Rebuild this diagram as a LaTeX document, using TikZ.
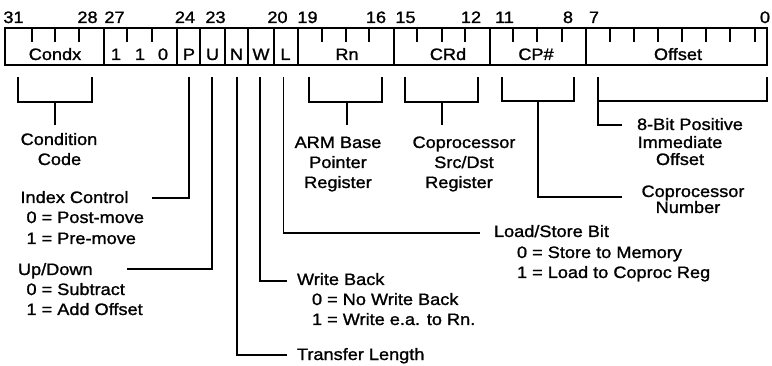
\documentclass[tikz,border=0pt]{standalone}
\usepackage{fontspec}
\setmainfont{Liberation Sans}[FakeStretch=1.1,FakeBold=1.2]
\begin{document}
\begin{tikzpicture}[x=1pt,y=-1pt,
  every node/.style={inner sep=0pt, outer sep=0pt, font=\fontsize{16.5}{19}\selectfont},
  lbl/.style={anchor=base},
  lbw/.style={anchor=base west},
  wire/.style={line width=1.8pt},
  divider/.style={line width=1.8pt},
  tick/.style={line width=1.5pt},
  frame/.style={line width=2.2pt}]
\useasboundingbox[fill=white] (0,0) rectangle (772,366);

% ---- register box ----
\draw[frame] (5,28) rectangle (767,65);
\foreach \x in {104,177,200,225,248,274,298,394,490,586}
  \draw[divider] (\x,28) -- (\x,65);
\foreach \x in {32,55,79,127,152,322,346,369,417,442,465,513,537,562,610,634,658,682,706,730,755}
  \draw[tick] (\x,28) -- (\x,42);

% ---- bit numbers ----
\foreach \x/\t in {13.5/31,87.5/28,114.5/27,185/24,215.5/23,277.5/20,307.5/19,376/16,405.5/15,471/12,504.5/11,568/8,594/7,765/0}
  \node[lbl] at (\x,23) {\t};

% ---- field labels ----
\node[lbl] (condx) at (55,60) {Condx};
\node[lbl] (b27) at (116,60) {1};
\node[lbl] (b26) at (140,60) {1};
\node[lbl] (b25) at (163,60) {0};
\node[lbl] (fP) at (189,60) {P};
\node[lbl] (fU) at (212.5,60) {U};
\node[lbl] (fN) at (236.5,60) {N};
\node[lbl] (fW) at (261,60) {W};
\node[lbl] (fL) at (285.5,60) {L};
\node[lbl] (fRn) at (347,60) {Rn};
\node[lbl] (fCRd) at (448,60) {CRd};
\node[lbl] (fCP) at (536,60) {CP\#};
\node[lbl] (fOff) at (678,60) {Offset};

% ---- descriptions ----
\node[lbl] (cond1) at (59,145) {Condition};
\node[lbl] (cond2) at (59.5,165) {Code};
\node[lbw] (idx) at (20.5,203) {Index Control};
\node[lbw] (idx0) at (26.5,223) {0 = Post-move};
\node[lbw] (idx1) at (26.5,244) {1 = Pre-move};
\node[lbw] (ud) at (18,275) {Up/Down};
\node[lbw] (ud0) at (26.5,295) {0 = Subtract};
\node[lbw] (ud1) at (26.5,315) {1 = Add Offset};
\node[lbl] (arm1) at (338,148) {ARM Base};
\node[lbl] (arm2) at (338,168) {Pointer};
\node[lbl] (arm3) at (338,188) {Register};
\node[lbl] (cp1) at (464,148) {Coprocessor};
\node[lbl] (cp2) at (464,168) {Src/Dst};
\node[lbl] (cp3) at (459,188) {Register};
\node[lbl] (ob1) at (690,130) {8-Bit Positive};
\node[lbl] (ob2) at (680,148) {Immediate};
\node[lbl] (ob3) at (680,165) {Offset};
\node[lbl] (cn1) at (693,197) {Coprocessor};
\node[lbl] (cn2) at (688,213) {Number};
\node[lbw] (ls) at (494,237) {Load/Store Bit};
\node[lbw] (ls0) at (517,258) {0 = Store to Memory};
\node[lbw] (ls1) at (517,278) {1 = Load to Coproc Reg};
\node[lbw] (wb) at (297,285) {Write Back};
\node[lbw] (wb0) at (312,305) {0 = No Write Back};
\node[lbw] (wb1) at (312,325) {1 = Write e.a. to Rn.};
\node[lbw] (tl) at (297,360) {Transfer Length};

% ---- connector end points ----
\coordinate (cA) at (18,77);   \coordinate (cB) at (92,77);
\coordinate (cS) at (55,102);  \coordinate (cE) at (55,125);
\coordinate (pT) at (189,77);  \coordinate (pE) at (152,198);
\coordinate (uT) at (212,77);  \coordinate (uE) at (127,269);
\coordinate (nT) at (237,77);  \coordinate (nE) at (287,355);
\coordinate (wT) at (260,77);  \coordinate (wE) at (287,281);
\coordinate (lT) at (283.5,77);\coordinate (lE) at (480,233);
\coordinate (rA) at (309,77);  \coordinate (rB) at (382,77);
\coordinate (rS) at (347,102); \coordinate (rE) at (347,125);
\coordinate (dA) at (405,77);  \coordinate (dB) at (478,77);
\coordinate (dS) at (442,102); \coordinate (dE) at (442,125);
\coordinate (qA) at (502,77);  \coordinate (qB) at (574,77);
\coordinate (qS) at (538,101); \coordinate (qE) at (622,197);
\coordinate (oA) at (598,77);  \coordinate (oB) at (767,77);
\coordinate (oE) at (622,125);

% ---- connectors ----
\draw[wire] (cA) |- (cS -| cB) -- (cB);
\draw[wire] (cS) -- (cE);
\draw[wire] (pT) |- (pE);
\draw[wire] (uT) |- (uE);
\draw[wire] (nT) |- (nE);
\draw[wire] (wT) |- (wE);
\draw[wire] (lT) |- (lE);
\draw[wire] (rA) |- (rS -| rB) -- (rB);
\draw[wire] (rS) -- (rE);
\draw[wire] (dA) |- (dS -| dB) -- (dB);
\draw[wire] (dS) -- (dE);
\draw[wire] (qA) |- (qS -| qB) -- (qB);
\draw[wire] (qS) |- (qE);
\draw[wire] (oA) |- (oE);
\draw[wire] (oA |- qS) -| (oB);
\end{tikzpicture}
\end{document}
